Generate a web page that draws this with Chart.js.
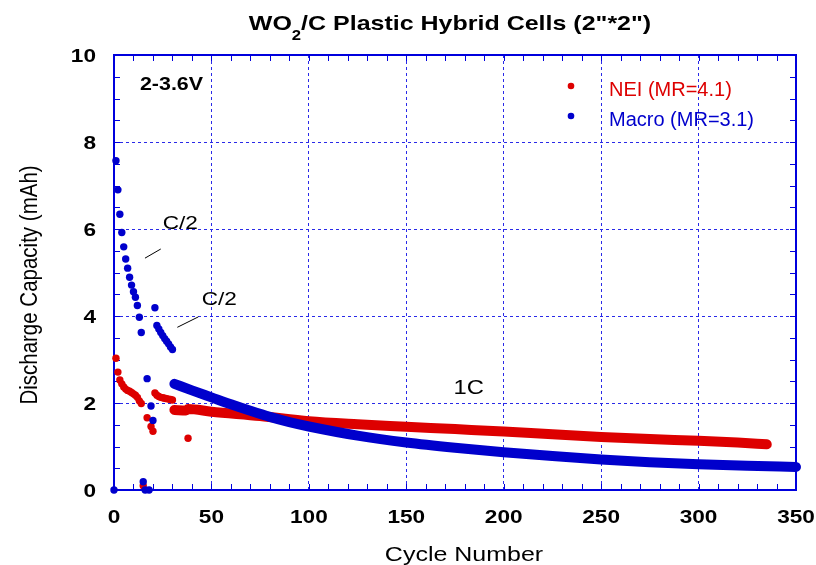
<!DOCTYPE html>
<html>
<head>
<meta charset="utf-8">
<title>WO2/C Plastic Hybrid Cells</title>
<script src="https://cdn.jsdelivr.net/npm/chart.js@4.4.1/dist/chart.umd.min.js"></script>
<style>
  html, body { margin: 0; padding: 0; background: #fff; }
  #wrap { width: 816px; height: 565px; }
</style>
</head>
<body>
<div id="wrap"><canvas id="chart" width="816" height="565"></canvas></div>
<script>
// --- DATA ---
const seriesNames = ['NEI (MR=4.1)', 'Macro (MR=3.1)'];

// NEI cell, early cycles (C/2 steps and the odd drop-outs)
const neiCycles   = [1, 2, 3, 4, 5, 6, 7, 8, 9, 10, 11, 12, 13, 14, 15, 17, 19, 20,
                     21, 22, 23, 24, 25, 26, 27, 28, 29, 30, 38];
const neiCapacity = [3.03, 2.71, 2.53, 2.44, 2.37, 2.32, 2.29, 2.27, 2.24, 2.21, 2.18, 2.13, 2.05, 1.99, 0.10, 1.66, 1.46, 1.35,
                     2.23, 2.18, 2.15, 2.13, 2.12, 2.11, 2.10, 2.09, 2.08, 2.07, 1.19];
// NEI cell, long 1C run
const neiRunCycles   = [31, 37, 38, 50, 75, 100, 125, 150, 175, 200, 225, 250, 275, 300, 320, 335];
const neiRunCapacity = [1.84, 1.83, 1.86, 1.80, 1.70, 1.58, 1.51, 1.455, 1.40, 1.345, 1.28, 1.22, 1.17, 1.13, 1.09, 1.05];

// Macro cell, early cycles
const macroCycles   = [0, 1, 2, 3, 4, 5, 6, 7, 8, 9, 10, 11, 12, 13, 14, 15, 16, 17, 18, 19, 20,
                       21, 22, 23, 24, 25, 26, 27, 28, 29, 30];
const macroCapacity = [0, 7.57, 6.90, 6.34, 5.92, 5.59, 5.31, 5.10, 4.89, 4.71, 4.56, 4.43, 4.24, 3.97, 3.62, 0.19, 0, 2.56, 0, 1.93, 1.60,
                       4.19, 3.78, 3.70, 3.62, 3.55, 3.48, 3.42, 3.36, 3.29, 3.23];
// Macro cell, long 1C run
const macroRunCycles   = [31, 40, 50, 60, 70, 80, 90, 100, 125, 150, 175, 200, 225, 250, 275, 300, 325, 350];
const macroRunCapacity = [2.44, 2.29, 2.13, 1.97, 1.82, 1.68, 1.56, 1.46, 1.25, 1.09, 0.97, 0.87, 0.78, 0.70, 0.64, 0.59, 0.555, 0.53];

const xTicks = [0, 50, 100, 150, 200, 250, 300, 350];
const yTicks = [0, 2, 4, 6, 8, 10];

// --- STYLE ---
const RED = '#dd0000';
const BLUE = '#0000cc';
const FRAME = '#0000dd';
const GRID = '#2a2ae8';
const FONT = '"Liberation Sans", Arial, Helvetica, sans-serif';
const STRETCH = 1.19;   // labels are drawn a little wide

const pts = (xs, ys) => xs.map((c, i) => ({ x: c, y: ys[i] }));

function wideText(ctx, str, x, y, font, opts = {}) {
  ctx.save();
  ctx.translate(x, y);
  ctx.scale(opts.stretch ?? STRETCH, 1);
  if (opts.rotate) ctx.rotate(opts.rotate);
  ctx.font = font;
  ctx.fillStyle = opts.color || '#000';
  ctx.textAlign = opts.align || 'center';
  ctx.textBaseline = opts.baseline || 'alphabetic';
  ctx.fillText(str, 0, 0);
  ctx.restore();
}

// frame + inward minor ticks on all four sides
const framePlugin = {
  id: 'frame',
  beforeDatasetsDraw(chart) {
    const { ctx, chartArea: a, scales: { x, y } } = chart;
    ctx.save();
    ctx.strokeStyle = FRAME;
    ctx.lineWidth = 1;
    ctx.beginPath();
    for (let c = 0; c <= 350; c += 10) {
      const px = Math.round(x.getPixelForValue(c)) + 0.5;
      ctx.moveTo(px, a.bottom); ctx.lineTo(px, a.bottom - 6);
      ctx.moveTo(px, a.top); ctx.lineTo(px, a.top + 6);
    }
    for (let v = 0; v <= 10; v += 0.5) {
      const py = Math.round(y.getPixelForValue(v)) + 0.5;
      ctx.moveTo(a.left, py); ctx.lineTo(a.left + 6, py);
      ctx.moveTo(a.right, py); ctx.lineTo(a.right - 6, py);
    }
    ctx.stroke();
    ctx.lineWidth = 2;
    ctx.strokeRect(a.left, a.top, a.right - a.left, a.bottom - a.top);
    ctx.restore();
  }
};

// title, tick labels, axis titles, notes and legend
const textPlugin = {
  id: 'texts',
  afterDraw(chart) {
    const { ctx, scales: { x, y } } = chart;

    // title with subscript
    const big = 'bold 21px ' + FONT, small = 'bold 14px ' + FONT;
    ctx.save();
    ctx.font = big;
    const w1 = ctx.measureText('WO').width;
    const w3 = ctx.measureText('/C Plastic Hybrid Cells (2"*2")').width;
    ctx.font = small;
    const w2 = ctx.measureText('2').width;
    ctx.restore();
    const total = (w1 + w2 + w3) * STRETCH;
    let tx = 450 - total / 2;
    wideText(ctx, 'WO', tx, 30, big, { align: 'left' });
    tx += w1 * STRETCH;
    wideText(ctx, '2', tx, 40, small, { align: 'left' });
    tx += w2 * STRETCH;
    wideText(ctx, '/C Plastic Hybrid Cells (2"*2")', tx, 30, big, { align: 'left' });

    // tick labels
    const tickFont = 'bold 19px ' + FONT;
    xTicks.forEach(v => wideText(ctx, String(v), x.getPixelForValue(v), 523, tickFont));
    yTicks.forEach(v => wideText(ctx, String(v), 96, y.getPixelForValue(v) + 7, tickFont, { align: 'right' }));

    // axis titles
    wideText(ctx, 'Cycle Number', 464, 561, '21px ' + FONT);
    wideText(ctx, 'Discharge Capacity (mAh)', 30, 285, '20.5px ' + FONT,
      { rotate: -Math.PI / 2, baseline: 'middle' });

    // notes inside the plot
    wideText(ctx, '2-3.6V', x.getPixelForValue(29.5), y.getPixelForValue(9.2), 'bold 18px ' + FONT);
    wideText(ctx, 'C/2', x.getPixelForValue(34), y.getPixelForValue(6.0), '19px ' + FONT);
    wideText(ctx, 'C/2', x.getPixelForValue(54), y.getPixelForValue(4.25), '19px ' + FONT);
    wideText(ctx, '1C', x.getPixelForValue(182), y.getPixelForValue(2.2), '20px ' + FONT);

    ctx.save();
    ctx.strokeStyle = '#000';
    ctx.lineWidth = 1;
    ctx.beginPath();
    ctx.moveTo(x.getPixelForValue(15.9), y.getPixelForValue(5.33));
    ctx.lineTo(x.getPixelForValue(24.0), y.getPixelForValue(5.54));
    ctx.moveTo(x.getPixelForValue(32.5), y.getPixelForValue(3.74));
    ctx.lineTo(x.getPixelForValue(43.3), y.getPixelForValue(3.98));
    ctx.stroke();

    // legend
    const colors = [RED, BLUE];
    seriesNames.forEach((name, i) => {
      const ly = 86 + i * 30;
      ctx.fillStyle = colors[i];
      ctx.beginPath();
      ctx.arc(571, ly, 3.3, 0, Math.PI * 2);
      ctx.fill();
      ctx.font = '20px ' + FONT;
      ctx.textAlign = 'left';
      ctx.textBaseline = 'alphabetic';
      ctx.fillText(name, 609, ly + 10);
    });
    ctx.restore();
  }
};

const dotSet = (data, color, order) => ({
  data, order, showLine: false, clip: false,
  pointRadius: 3.7, pointBorderWidth: 0,
  pointBackgroundColor: color, pointBorderColor: color
});
const runSet = (data, color, order) => ({
  data, order, showLine: true, clip: false,
  borderColor: color, borderWidth: 10, borderCapStyle: 'round', borderJoinStyle: 'round',
  cubicInterpolationMode: 'monotone', pointRadius: 0
});

new Chart(document.getElementById('chart'), {
  type: 'scatter',
  data: {
    datasets: [
      dotSet(pts(macroCycles, macroCapacity), BLUE, 0),
      runSet(pts(macroRunCycles, macroRunCapacity), BLUE, 1),
      dotSet(pts(neiCycles, neiCapacity), RED, 2),
      runSet(pts(neiRunCycles, neiRunCapacity), RED, 3)
    ]
  },
  options: {
    responsive: false,
    animation: false,
    layout: { padding: { top: 55, right: 20, left: 0, bottom: 0 } },
    plugins: { legend: { display: false }, tooltip: { enabled: false } },
    scales: {
      x: {
        type: 'linear', min: 0, max: 350,
        ticks: { stepSize: 50, display: false },
        grid: { color: GRID, lineWidth: 1, drawTicks: false },
        border: { display: false, dash: [3, 3] },
        afterFit: s => { s.height = 75; }
      },
      y: {
        type: 'linear', min: 0, max: 10,
        ticks: { stepSize: 2, display: false },
        grid: { color: GRID, lineWidth: 1, drawTicks: false },
        border: { display: false, dash: [3, 3] },
        afterFit: s => { s.width = 114; }
      }
    }
  },
  plugins: [framePlugin, textPlugin]
});
</script>
</body>
</html>
